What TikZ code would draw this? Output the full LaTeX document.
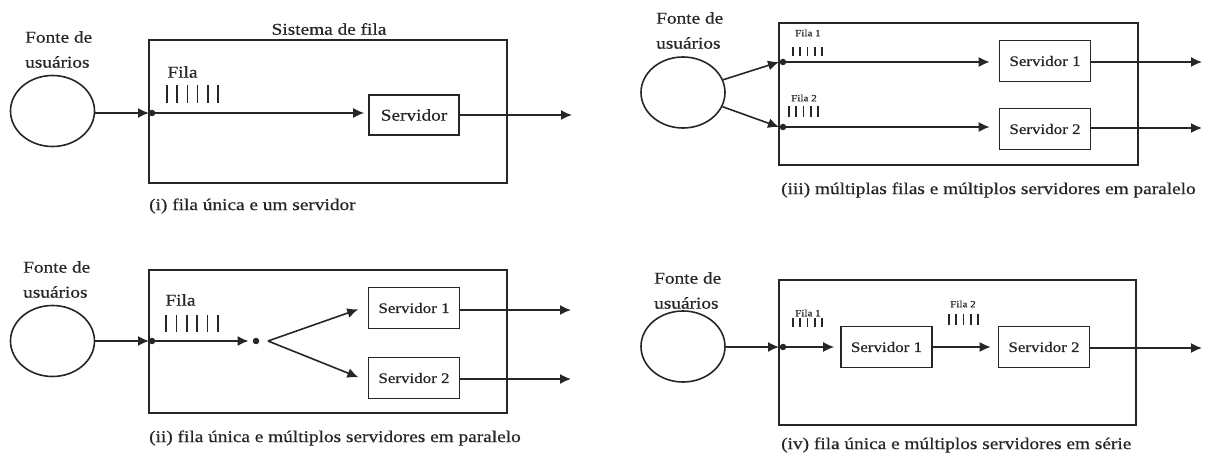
\documentclass[tikz,border=0pt]{standalone}
\usepackage{fontspec}
\setmainfont[FakeStretch=1.17,FakeBold=0.6]{Liberation Serif}
\usetikzlibrary{shapes.geometric,arrows.meta}
\begin{document}
\begin{tikzpicture}[x=1pt,y=-1pt,
  src/.style={ellipse, draw=black!85, line width=1.6pt, minimum width=84pt, minimum height=71pt, inner sep=0pt},
  sysbox/.style={draw=black!85, line width=1.6pt, inner sep=0pt},
  srv/.style={draw=black!85, line width=1.6pt, inner sep=0pt, minimum width=91pt, minimum height=41pt, text=black!85, font=\fontsize{14.5}{17}\selectfont},
  flow/.style={draw=black!85, line width=1.6pt, -{Latex[length=11pt,width=10pt]}},
  dotnode/.style={circle, fill=black!85, inner sep=0pt, minimum size=6.5pt},
  lbl/.style={inner sep=0pt, text=black!85, font=\fontsize{16.5}{25}\selectfont},
  tinylbl/.style={inner sep=0pt, text=black!85, font=\fontsize{9.5}{11}\selectfont},
  qbar/.style={draw=black!85, line width=1.7pt}
]
\useasboundingbox (0,0) rectangle (1205,457);
\fill[white] (0,0) rectangle (1205,457);

% ---------- (i) ----------
\node[src] (c1) at (52.5,111) {};
\node[lbl, align=left, anchor=west] (t1) at (25,49.5) {Fonte de\\usuários};
\node[sysbox, minimum width=358, minimum height=143] (s1) at (328,111.5) {};
\node[lbl] (st1) at (329,29) {Sistema de fila};
\coordinate (e1) at (149,113);
\draw[flow] (c1.east |- e1) -- (e1);
\node[dotnode] (d1) at (152,113) {};
\node[lbl] (f1) at (182.5,72) {Fila};
\foreach \i in {0,...,5} \draw[qbar] (167+10.2*\i,85) -- ++(0,18);
\node[srv, minimum width=90, minimum height=40, font=\fontsize{16.5}{19}\selectfont] (v1) at (414,115) {Servidor};
\draw[flow, shorten >=4pt] (d1) -- (v1.west |- d1);
\coordinate (o1) at (572,115);
\draw[flow] (v1.east) -- (o1);
\node[lbl, anchor=west] (cap1) at (149,206) {(i) fila única e um servidor};

% ---------- (ii) ----------
\node[src] (c2) at (52.5,341) {};
\node[lbl, align=left, anchor=west] (t2) at (23,279.5) {Fonte de\\usuários};
\node[sysbox, minimum width=358, minimum height=143] (s2) at (328,341.5) {};
\coordinate (e2) at (149,341);
\draw[flow] (c2.east |- e2) -- (e2);
\node[dotnode] (d2) at (152,341) {};
\node[lbl] (f2) at (180.5,300) {Fila};
\foreach \i in {0,...,5} \draw[qbar] (166+10.4*\i,315) -- ++(0,17);
\node[dotnode] (j2) at (256,341) {};
\draw[flow, shorten >=4pt] (d2) -- (j2);
\coordinate (k2) at (268,341);
\node[srv] (v21) at (414,308) {Servidor 1};
\node[srv] (v22) at (414,378) {Servidor 2};
\draw[flow, shorten >=10pt] (k2) -- ([yshift=2pt]v21.west);
\draw[flow, shorten >=10pt] (k2) -- ([yshift=-3pt]v22.west);
\coordinate (o21) at (571,310);
\coordinate (o22) at (571,379);
\draw[flow] (v21.east |- o21) -- (o21);
\draw[flow] (v22.east |- o22) -- (o22);
\node[lbl, anchor=west] (cap2) at (149,438) {(ii) fila única e múltiplos servidores em paralelo};

% ---------- (iii) ----------
\node[src] (c3) at (683,92.5) {};
\node[lbl, align=left, anchor=west] (t3) at (656,30.5) {Fonte de\\usuários};
\node[sysbox, minimum width=359, minimum height=142] (s3) at (958.5,94) {};
\coordinate (e3a) at (779,62);
\coordinate (e3b) at (779,127);
\draw[flow] (c3) -- (e3a);
\draw[flow] (c3) -- (e3b);
\node[dotnode] (d3a) at (783,62) {};
\node[dotnode] (d3b) at (783,127) {};
\node[tinylbl] (f31) at (808,33) {Fila 1};
\foreach \i in {0,...,4} \draw[qbar] (793+7.25*\i,47) -- ++(0,9);
\node[tinylbl] (f32) at (804,98) {Fila 2};
\foreach \i in {0,...,4} \draw[qbar] (789+7.25*\i,106) -- ++(0,11);
\node[srv] (v31) at (1045,61) {Servidor 1};
\node[srv] (v32) at (1045,129) {Servidor 2};
\draw[flow, shorten >=9pt] (d3a) -- (v31.west |- d3a);
\draw[flow, shorten >=9pt] (d3b) -- (v32.west |- d3b);
\coordinate (o31) at (1202,62);
\coordinate (o32) at (1202,128);
\draw[flow] (v31.east |- o31) -- (o31);
\draw[flow] (v32.east |- o32) -- (o32);
\node[lbl, anchor=west] (cap3) at (781,190) {(iii) múltiplas filas e múltiplos servidores em paralelo};

% ---------- (iv) ----------
\node[src] (c4) at (683,346.5) {};
\node[lbl, align=left, anchor=west] (t4) at (654,290.5) {Fonte de\\usuários};
\node[sysbox, minimum width=357, minimum height=145] (s4) at (957.5,352.5) {};
\coordinate (e4) at (779,347);
\draw[flow] (c4.east |- e4) -- (e4);
\node[dotnode] (d4) at (783,347) {};
\node[tinylbl] (f41) at (808,313) {Fila 1};
\foreach \i in {0,...,4} \draw[qbar] (793+7.25*\i,318) -- ++(0,9);
\node[tinylbl] (f42) at (963,304) {Fila 2};
\foreach \i in {0,...,4} \draw[qbar] (949+7.25*\i,314) -- ++(0,11);
\node[srv] (v41) at (886.5,347) {Servidor 1};
\node[srv] (v42) at (1044,347) {Servidor 2};
\draw[flow, shorten >=6pt] (d4) -- (v41.west);
\draw[flow, shorten >=7pt] (v41.east) -- (v42.west);
\coordinate (o4) at (1202,348);
\draw[flow] (v42.east |- o4) -- (o4);
\node[lbl, anchor=west] (cap4) at (781,445) {(iv) fila única e múltiplos servidores em série};
\end{tikzpicture}
\end{document}
